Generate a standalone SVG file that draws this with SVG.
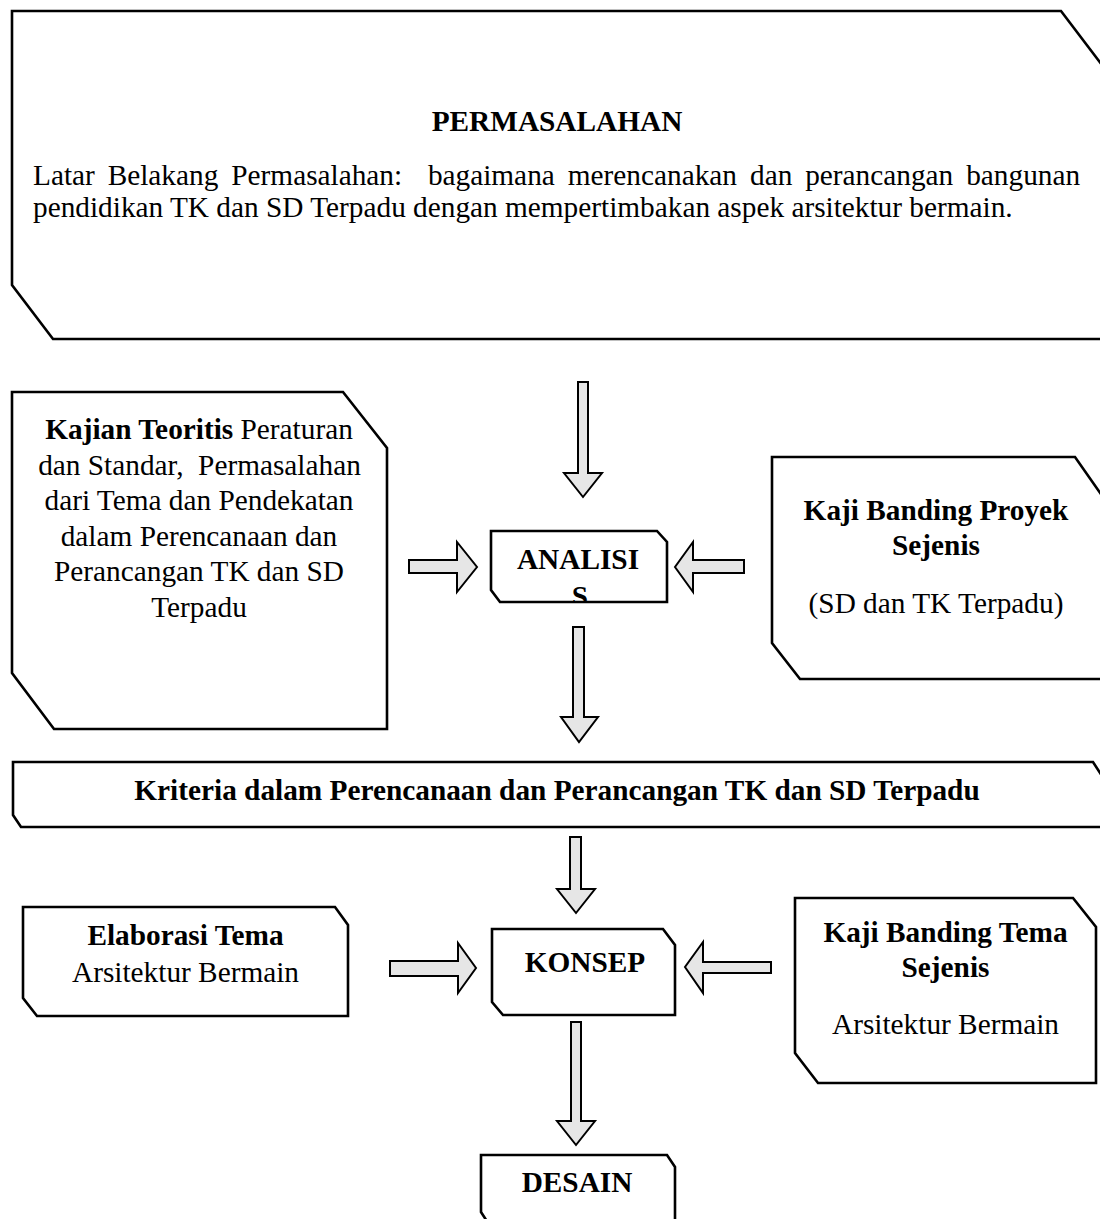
<svg xmlns="http://www.w3.org/2000/svg" width="1100" height="1219" viewBox="0 0 1100 1219">
<style>
.box{fill:#ffffff;stroke:#000000;stroke-width:2.6;stroke-linejoin:miter}
.arr{fill:#e6e6e6;stroke:#000000;stroke-width:2;stroke-linejoin:miter}
text{font-family:"Liberation Serif","Times New Roman",serif;font-size:29.3px;fill:#000000}
.b{font-weight:bold}
.c{text-anchor:middle}
</style>
<defs>
<clipPath id="clipAn"><rect x="492" y="532" width="174" height="69"/></clipPath>
</defs>
<rect x="0" y="0" width="1100" height="1219" fill="#ffffff"/>

<g id="permasalahan">
<polygon class="box" points="12,11 1061,11 1102,65 1102,339 53,339 12,285"/>
<text class="b c" x="557" y="131">PERMASALAHAN</text>
<text y="185"><tspan x="33">Latar</tspan><tspan x="107.7">Belakang</tspan><tspan x="231.3">Permasalahan:</tspan><tspan x="427.9">bagaimana</tspan><tspan x="567.8">merencanakan</tspan><tspan x="750">dan</tspan><tspan x="805.2">perancangan</tspan><tspan x="966.2">bangunan</tspan></text>
<text x="33" y="217">pendidikan TK dan SD Terpadu dengan mempertimbakan aspek arsitektur bermain.</text>
</g>

<g id="kajian-teoritis">
<polygon class="box" points="12,392 343,392 387,448 387,729 54,729 12,673"/>
<text class="c" x="199" y="439"><tspan class="b">Kajian Teoritis</tspan> Peraturan</text>
<text class="c" x="199.5" y="474.5" xml:space="preserve">dan Standar,  Permasalahan</text>
<text class="c" x="199" y="510">dari Tema dan Pendekatan</text>
<text class="c" x="199" y="545.5">dalam Perencanaan dan</text>
<text class="c" x="199" y="581">Perancangan TK dan SD</text>
<text class="c" x="199" y="616.5">Terpadu</text>
</g>

<g id="analisis">
<polygon class="box" points="491,531 657,531 667,542 667,602 500,602 491,590"/>
<text class="b c" x="578" y="569">ANALISI</text>
<g clip-path="url(#clipAn)"><text class="b c" x="580" y="606">S</text></g>
</g>

<g id="kaji-banding-proyek">
<polygon class="box" points="772,457 1075,457 1103,497 1103,679 800,679 772,643"/>
<text class="b c" x="936" y="520">Kaji Banding Proyek</text>
<text class="b c" x="936" y="555">Sejenis</text>
<text class="c" x="936" y="613">(SD dan TK Terpadu)</text>
</g>

<g id="kriteria">
<polygon class="box" points="13,762 1093,762 1102,776 1102,827 21,827 13,815"/>
<text class="b c" x="557" y="800">Kriteria dalam Perencanaan dan Perancangan TK dan SD Terpadu</text>
</g>

<g id="elaborasi-tema">
<polygon class="box" points="23,907 335,907 348,925 348,1016 37,1016 23,998"/>
<text class="b c" x="185.5" y="945">Elaborasi Tema</text>
<text class="c" x="185.5" y="982">Arsitektur Bermain</text>
</g>

<g id="konsep">
<polygon class="box" points="492,929 663,929 675,945 675,1015 503,1015 492,1002"/>
<text class="b c" x="585" y="972">KONSEP</text>
</g>

<g id="kaji-banding-tema">
<polygon class="box" points="795,898 1073,898 1096,927 1096,1083 818,1083 795,1053"/>
<text class="b c" x="945.5" y="942">Kaji Banding Tema</text>
<text class="b c" x="945.5" y="977">Sejenis</text>
<text class="c" x="945.5" y="1034">Arsitektur Bermain</text>
</g>

<g id="desain">
<polygon class="box" points="481,1155 667,1155 675,1167 675,1226 490,1226 481,1212"/>
<text class="b c" x="577" y="1192">DESAIN</text>
</g>

<g id="connectors">
<polygon class="arr" points="578,382 588,382 588,473 602,473 583,497 564,473 578,473"/>
<polygon class="arr" points="409,560 457,560 457,542 477,567 457,592 457,573 409,573"/>
<polygon class="arr" points="744,560 693,560 693,542 675,567 693,592 693,573 744,573"/>
<polygon class="arr" points="573,627 584,627 584,717 598,717 579,742 561,717 573,717"/>
<polygon class="arr" points="570,837 581,837 581,889 595,889 576,913 557,889 570,889"/>
<polygon class="arr" points="390,961 458,961 458,943 476,968 458,993 458,976 390,976"/>
<polygon class="arr" points="771,962 703,962 703,942 685,967 703,993 703,973 771,973"/>
<polygon class="arr" points="571,1022 581,1022 581,1121 595,1121 576,1145 557,1121 571,1121"/>
</g>
</svg>
